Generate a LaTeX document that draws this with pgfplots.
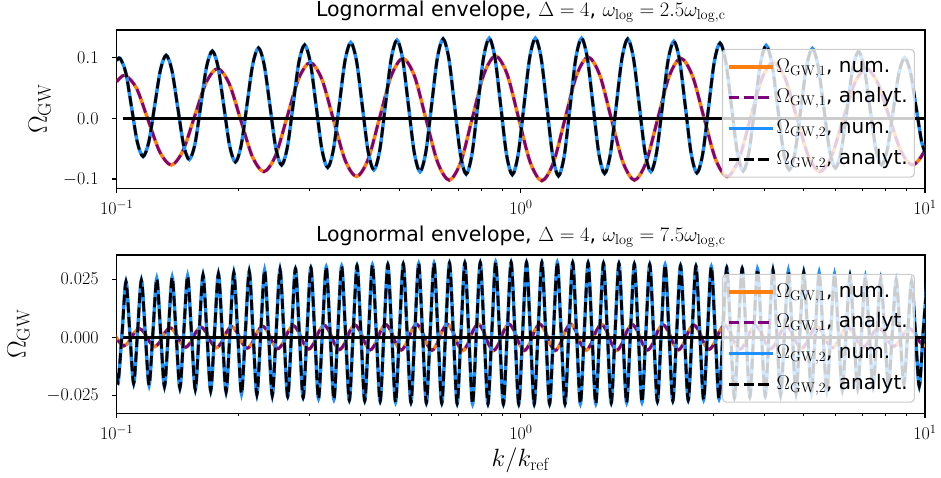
\RequirePackage{fix-cm}
\documentclass[border=0pt]{standalone}
\usepackage[no-math]{fontspec}
\setmainfont{DejaVu Sans}
\usepackage{pgfplots}
\usepackage{pgfplotstable}
\pgfplotsset{compat=1.18}
\definecolor{corange}{RGB}{255,127,14}
\definecolor{cblue}{RGB}{30,144,255}
\definecolor{cpurple}{RGB}{128,0,128}
\definecolor{legedge}{RGB}{204,204,204}

% top panel, omega_2 (u = log10 k)
\pgfplotstableread[row sep=\\]{
u v\\
-1.0000 0.095\\
-0.9918 0.099\\ -0.9775 0.0753\\ -0.9632 0.018\\ -0.9490 -0.0393\\
-0.9347 -0.063\\ -0.9204 -0.0385\\ -0.9061 0.0205\\ -0.8919 0.0795\\
-0.8776 0.104\\ -0.8633 0.0788\\ -0.8490 0.018\\ -0.8348 -0.0428\\
-0.8205 -0.068\\ -0.8062 -0.0418\\ -0.7919 0.0215\\ -0.7777 0.0848\\
-0.7634 0.111\\ -0.7491 0.0842\\ -0.7348 0.0195\\ -0.7206 -0.0452\\
-0.7063 -0.072\\ -0.6920 -0.0445\\ -0.6777 0.022\\ -0.6635 0.0885\\
-0.6492 0.116\\ -0.6349 0.0877\\ -0.6206 0.0195\\ -0.6064 -0.0487\\
-0.5921 -0.077\\ -0.5778 -0.048\\ -0.5635 0.022\\ -0.5493 0.092\\
-0.5350 0.121\\ -0.5207 0.0914\\ -0.5064 0.020\\ -0.4922 -0.0514\\
-0.4779 -0.081\\ -0.4636 -0.0508\\ -0.4493 0.022\\ -0.4351 0.0948\\
-0.4208 0.125\\ -0.4065 0.0942\\ -0.3922 0.020\\ -0.3780 -0.0542\\
-0.3637 -0.085\\ -0.3494 -0.0537\\ -0.3351 0.022\\ -0.3209 0.0977\\
-0.3066 0.129\\ -0.2923 0.0972\\ -0.2780 0.0205\\ -0.2638 -0.0562\\
-0.2495 -0.088\\ -0.2352 -0.0559\\ -0.2209 0.0215\\ -0.2067 0.0989\\
-0.1924 0.131\\ -0.1781 0.0983\\ -0.1638 0.0195\\ -0.1496 -0.0593\\
-0.1353 -0.092\\ -0.1210 -0.0592\\ -0.1067 0.020\\ -0.0925 0.0992\\
-0.0782 0.132\\ -0.0639 0.099\\ -0.0496 0.0195\\ -0.0354 -0.060\\
-0.0211 -0.093\\ -0.0068 -0.060\\ 0.0075 0.0195\\ 0.0217 0.099\\
0.0360 0.132\\ 0.0503 0.0988\\ 0.0646 0.0185\\ 0.0788 -0.0618\\
0.0931 -0.095\\ 0.1074 -0.0618\\ 0.1217 0.0185\\ 0.1359 0.0988\\
0.1502 0.132\\ 0.1645 0.0993\\ 0.1788 0.0205\\ 0.1930 -0.0583\\
0.2073 -0.091\\ 0.2216 -0.0585\\ 0.2359 0.020\\ 0.2501 0.0985\\
0.2644 0.131\\ 0.2787 0.0989\\ 0.2930 0.0215\\ 0.3072 -0.0559\\
0.3215 -0.088\\ 0.3358 -0.0565\\ 0.3501 0.0195\\ 0.3643 0.0955\\
0.3786 0.127\\ 0.3929 0.0952\\ 0.4072 0.0185\\ 0.4214 -0.0582\\
0.4357 -0.090\\ 0.4500 -0.0587\\ 0.4643 0.017\\ 0.4785 0.0927\\
0.4928 0.124\\ 0.5071 0.0931\\ 0.5214 0.0185\\ 0.5356 -0.0561\\
0.5499 -0.087\\ 0.5642 -0.0567\\ 0.5785 0.0165\\ 0.5927 0.0897\\
0.6070 0.120\\ 0.6213 0.090\\ 0.6356 0.0175\\ 0.6498 -0.055\\
0.6641 -0.085\\ 0.6784 -0.0557\\ 0.6927 0.015\\ 0.7069 0.0857\\
0.7212 0.115\\ 0.7355 0.0862\\ 0.7498 0.0165\\ 0.7640 -0.0532\\
0.7783 -0.082\\ 0.7926 -0.0539\\ 0.8069 0.014\\ 0.8211 0.0819\\
0.8354 0.110\\ 0.8497 0.0826\\ 0.8640 0.0165\\ 0.8782 -0.0496\\
0.8925 -0.077\\ 0.9068 -0.0511\\ 0.9211 0.0115\\ 0.9353 0.0741\\
0.9496 0.100\\ 0.9639 0.0758\\ 0.9782 0.0175\\ 0.9924 -0.0408\\
1.0067 -0.065\\
}\topblue

% top panel, omega_1
\pgfplotstableread[row sep=\\]{
u v\\
-1.0000 0.0603\\
-0.9795 0.071\\ -0.9508 0.0493\\ -0.9222 -0.003\\ -0.8935 -0.0553\\
-0.8649 -0.077\\ -0.8362 -0.0537\\ -0.8076 0.0025\\ -0.7789 0.0587\\
-0.7503 0.082\\ -0.7216 0.0571\\ -0.6930 -0.003\\ -0.6643 -0.0631\\
-0.6357 -0.088\\ -0.6070 -0.0616\\ -0.5784 0.002\\ -0.5497 0.0656\\
-0.5211 0.092\\ -0.4924 0.0645\\ -0.4638 -0.002\\ -0.4351 -0.0685\\
-0.4065 -0.096\\ -0.3778 -0.0674\\ -0.3492 0.0015\\ -0.3205 0.0704\\
-0.2919 0.099\\ -0.2632 0.0696\\ -0.2346 -0.0015\\ -0.2059 -0.0726\\
-0.1773 -0.102\\ -0.1486 -0.072\\ -0.1200 0.0005\\ -0.0913 0.073\\
-0.0627 0.103\\ -0.0340 0.0728\\ -0.0054 0.000\\ 0.0233 -0.0728\\
0.0519 -0.103\\ 0.0806 -0.0731\\ 0.1092 -0.001\\ 0.1379 0.0711\\
0.1665 0.101\\ 0.1952 0.0713\\ 0.2238 -0.0005\\ 0.2525 -0.0723\\
0.2811 -0.102\\ 0.3098 -0.0726\\ 0.3384 -0.0015\\ 0.3671 0.0696\\
0.3957 0.099\\ 0.4244 0.0704\\ 0.4530 0.0015\\ 0.4817 -0.0674\\
0.5103 -0.096\\ 0.5390 -0.0683\\ 0.5676 -0.0015\\ 0.5963 0.0653\\
0.6249 0.093\\ 0.6536 0.0665\\ 0.6822 0.0025\\ 0.7109 -0.0615\\
0.7395 -0.088\\ 0.7682 -0.0631\\ 0.7968 -0.003\\ 0.8255 0.0571\\
0.8541 0.082\\ 0.8828 0.0587\\ 0.9114 0.0025\\ 0.9401 -0.0537\\
0.9687 -0.077\\ 0.9974 -0.0555\\ 1.0260 -0.0035\\
}\toporange

% bottom panel, omega_2
\pgfplotstableread[row sep=\\]{
u v\\
-1.0000 -0.0155\\
-0.9961 -0.0191\\ -0.9866 0.002\\ -0.9770 0.0239\\ -0.9675 0.002\\
-0.9580 -0.0198\\ -0.9485 0.002\\ -0.9389 0.0245\\ -0.9294 0.002\\
-0.9199 -0.0205\\ -0.9104 0.002\\ -0.9008 0.0251\\ -0.8913 0.002\\
-0.8818 -0.0212\\ -0.8723 0.002\\ -0.8627 0.0257\\ -0.8532 0.002\\
-0.8436 -0.0218\\ -0.8341 0.002\\ -0.8245 0.0263\\ -0.8150 0.002\\
-0.8055 -0.0224\\ -0.7960 0.002\\ -0.7864 0.0268\\ -0.7769 0.002\\
-0.7674 -0.0230\\ -0.7579 0.002\\ -0.7483 0.0273\\ -0.7388 0.002\\
-0.7293 -0.0235\\ -0.7198 0.002\\ -0.7102 0.0278\\ -0.7007 0.002\\
-0.6912 -0.0241\\ -0.6817 0.002\\ -0.6721 0.0283\\ -0.6626 0.002\\
-0.6531 -0.0246\\ -0.6436 0.002\\ -0.6340 0.0287\\ -0.6245 0.002\\
-0.6150 -0.0250\\ -0.6055 0.002\\ -0.5959 0.0291\\ -0.5864 0.002\\
-0.5768 -0.0255\\ -0.5673 0.002\\ -0.5577 0.0295\\ -0.5482 0.002\\
-0.5387 -0.0259\\ -0.5292 0.002\\ -0.5196 0.0299\\ -0.5101 0.002\\
-0.5006 -0.0263\\ -0.4911 0.002\\ -0.4815 0.0302\\ -0.4720 0.002\\
-0.4625 -0.0266\\ -0.4530 0.002\\ -0.4434 0.0305\\ -0.4339 0.002\\
-0.4244 -0.0270\\ -0.4149 0.002\\ -0.4053 0.0308\\ -0.3958 0.002\\
-0.3863 -0.0273\\ -0.3768 0.002\\ -0.3672 0.0310\\ -0.3577 0.002\\
-0.3482 -0.0275\\ -0.3387 0.002\\ -0.3291 0.0313\\ -0.3196 0.002\\
-0.3100 -0.0278\\ -0.3005 0.002\\ -0.2909 0.0315\\ -0.2814 0.002\\
-0.2719 -0.0280\\ -0.2624 0.002\\ -0.2528 0.0316\\ -0.2433 0.002\\
-0.2338 -0.0282\\ -0.2243 0.002\\ -0.2147 0.0318\\ -0.2052 0.002\\
-0.1957 -0.0283\\ -0.1862 0.002\\ -0.1766 0.0319\\ -0.1671 0.002\\
-0.1576 -0.0285\\ -0.1481 0.002\\ -0.1385 0.0320\\ -0.1290 0.002\\
-0.1195 -0.0286\\ -0.1100 0.002\\ -0.1004 0.0321\\ -0.0909 0.002\\
-0.0814 -0.0286\\ -0.0719 0.002\\ -0.0623 0.0322\\ -0.0528 0.002\\
-0.0432 -0.0287\\ -0.0337 0.002\\ -0.0241 0.0322\\ -0.0146 0.002\\
-0.0051 -0.0287\\ 0.0044 0.002\\ 0.0140 0.0322\\ 0.0235 0.002\\
0.0330 -0.0287\\ 0.0425 0.002\\ 0.0521 0.0322\\ 0.0616 0.002\\
0.0711 -0.0286\\ 0.0806 0.002\\ 0.0902 0.0321\\ 0.0997 0.002\\
0.1092 -0.0286\\ 0.1187 0.002\\ 0.1283 0.0321\\ 0.1378 0.002\\
0.1473 -0.0285\\ 0.1568 0.002\\ 0.1664 0.0320\\ 0.1759 0.002\\
0.1854 -0.0284\\ 0.1949 0.002\\ 0.2045 0.0318\\ 0.2140 0.002\\
0.2236 -0.0282\\ 0.2331 0.002\\ 0.2427 0.0317\\ 0.2522 0.002\\
0.2617 -0.0280\\ 0.2712 0.002\\ 0.2808 0.0315\\ 0.2903 0.002\\
0.2998 -0.0278\\ 0.3093 0.002\\ 0.3189 0.0313\\ 0.3284 0.002\\
0.3379 -0.0276\\ 0.3474 0.002\\ 0.3570 0.0311\\ 0.3665 0.002\\
0.3760 -0.0273\\ 0.3855 0.002\\ 0.3951 0.0308\\ 0.4046 0.002\\
0.4141 -0.0270\\ 0.4236 0.002\\ 0.4332 0.0306\\ 0.4427 0.002\\
0.4522 -0.0267\\ 0.4617 0.002\\ 0.4713 0.0303\\ 0.4808 0.002\\
0.4904 -0.0264\\ 0.4999 0.002\\ 0.5095 0.0299\\ 0.5190 0.002\\
0.5285 -0.0260\\ 0.5380 0.002\\ 0.5476 0.0296\\ 0.5571 0.002\\
0.5666 -0.0256\\ 0.5761 0.002\\ 0.5857 0.0292\\ 0.5952 0.002\\
0.6047 -0.0252\\ 0.6142 0.002\\ 0.6238 0.0288\\ 0.6333 0.002\\
0.6428 -0.0247\\ 0.6523 0.002\\ 0.6619 0.0284\\ 0.6714 0.002\\
0.6809 -0.0242\\ 0.6904 0.002\\ 0.7000 0.0279\\ 0.7095 0.002\\
0.7190 -0.0237\\ 0.7285 0.002\\ 0.7381 0.0275\\ 0.7476 0.002\\
0.7571 -0.0231\\ 0.7666 0.002\\ 0.7762 0.0270\\ 0.7857 0.002\\
0.7953 -0.0226\\ 0.8048 0.002\\ 0.8144 0.0264\\ 0.8239 0.002\\
0.8334 -0.0220\\ 0.8429 0.002\\ 0.8525 0.0259\\ 0.8620 0.002\\
0.8715 -0.0213\\ 0.8810 0.002\\ 0.8906 0.0253\\ 0.9001 0.002\\
0.9096 -0.0207\\ 0.9191 0.002\\ 0.9287 0.0247\\ 0.9382 0.002\\
0.9477 -0.0200\\ 0.9572 0.002\\ 0.9668 0.0241\\ 0.9763 0.002\\
0.9858 -0.0210\\ 0.9953 0.002\\ 1.0049 0.0234\\
}\botblue

% bottom panel, omega_1
\pgfplotstableread[row sep=\\]{
u v\\
-1.0203 0.0035\\ -1.0076 0.00175\\ -0.9949 -0.00175\\
-0.9822 -0.0037\\ -0.9695 -0.00185\\ -0.9568 0.00185\\
-0.9441 0.0038\\ -0.9314 0.0019\\ -0.9187 -0.0019\\
-0.9060 -0.0040\\ -0.8933 -0.0020\\ -0.8806 0.0020\\
-0.8679 0.0041\\ -0.8552 0.00205\\ -0.8425 -0.00205\\
-0.8297 -0.0043\\ -0.8170 -0.00215\\ -0.8043 0.00215\\
-0.7916 0.0044\\ -0.7789 0.0022\\ -0.7662 -0.0022\\
-0.7535 -0.0045\\ -0.7408 -0.00225\\ -0.7281 0.00225\\
-0.7154 0.0046\\ -0.7027 0.0023\\ -0.6900 -0.0023\\
-0.6773 -0.0047\\ -0.6646 -0.00235\\ -0.6519 0.00235\\
-0.6392 0.0048\\ -0.6265 0.0024\\ -0.6138 -0.0024\\
-0.6011 -0.0049\\ -0.5884 -0.00245\\ -0.5757 0.00245\\
-0.5629 0.0050\\ -0.5502 0.0025\\ -0.5375 -0.0025\\
-0.5248 -0.0051\\ -0.5121 -0.00255\\ -0.4994 0.00255\\
-0.4867 0.0052\\ -0.4740 0.0026\\ -0.4613 -0.0026\\
-0.4486 -0.0053\\ -0.4359 -0.00265\\ -0.4232 0.00265\\
-0.4105 0.0053\\ -0.3978 0.00265\\ -0.3851 -0.00265\\
-0.3724 -0.0054\\ -0.3597 -0.0027\\ -0.3470 0.0027\\
-0.3343 0.0055\\ -0.3216 0.00275\\ -0.3089 -0.00275\\
-0.2961 -0.0055\\ -0.2834 -0.00275\\ -0.2707 0.00275\\
-0.2580 0.0056\\ -0.2453 0.0028\\ -0.2326 -0.0028\\
-0.2199 -0.0056\\ -0.2072 -0.0028\\ -0.1945 0.0028\\
-0.1818 0.0056\\ -0.1691 0.0028\\ -0.1564 -0.0028\\
-0.1437 -0.0057\\ -0.1310 -0.00285\\ -0.1183 0.00285\\
-0.1056 0.0057\\ -0.0929 0.00285\\ -0.0802 -0.00285\\
-0.0675 -0.0057\\ -0.0548 -0.00285\\ -0.0421 0.00285\\
-0.0293 0.0057\\ -0.0166 0.00285\\ -0.0039 -0.00285\\
0.0088 -0.0057\\ 0.0215 -0.00285\\ 0.0342 0.00285\\
0.0469 0.0057\\ 0.0596 0.00285\\ 0.0723 -0.00285\\
0.0850 -0.0057\\ 0.0977 -0.00285\\ 0.1104 0.00285\\
0.1231 0.0057\\ 0.1358 0.00285\\ 0.1485 -0.00285\\
0.1612 -0.0056\\ 0.1739 -0.0028\\ 0.1866 0.0028\\
0.1993 0.0056\\ 0.2120 0.0028\\ 0.2247 -0.0028\\
0.2375 -0.0056\\ 0.2502 -0.0028\\ 0.2629 0.0028\\
0.2756 0.0055\\ 0.2883 0.00275\\ 0.3010 -0.00275\\
0.3137 -0.0055\\ 0.3264 -0.00275\\ 0.3391 0.00275\\
0.3518 0.0054\\ 0.3645 0.0027\\ 0.3772 -0.0027\\
0.3899 -0.0054\\ 0.4026 -0.0027\\ 0.4153 0.0027\\
0.4280 0.0053\\ 0.4407 0.00265\\ 0.4534 -0.00265\\
0.4661 -0.0052\\ 0.4788 -0.0026\\ 0.4915 0.0026\\
0.5043 0.0052\\ 0.5170 0.0026\\ 0.5297 -0.0026\\
0.5424 -0.0051\\ 0.5551 -0.00255\\ 0.5678 0.00255\\
0.5805 0.0050\\ 0.5932 0.0025\\ 0.6059 -0.0025\\
0.6186 -0.0049\\ 0.6313 -0.00245\\ 0.6440 0.00245\\
0.6567 0.0048\\ 0.6694 0.0024\\ 0.6821 -0.0024\\
0.6948 -0.0047\\ 0.7075 -0.00235\\ 0.7202 0.00235\\
0.7329 0.0046\\ 0.7456 0.0023\\ 0.7583 -0.0023\\
0.7710 -0.0045\\ 0.7837 -0.00225\\ 0.7964 0.00225\\
0.8092 0.0043\\ 0.8219 0.00215\\ 0.8346 -0.00215\\
0.8473 -0.0042\\ 0.8600 -0.0021\\ 0.8727 0.0021\\
0.8854 0.0041\\ 0.8981 0.00205\\ 0.9108 -0.00205\\
0.9235 -0.0039\\ 0.9362 -0.00195\\ 0.9489 0.00195\\
0.9616 0.0038\\ 0.9743 0.0019\\ 0.9870 -0.0019\\
0.9997 -0.0036\\ 1.0124 -0.0018\\
}\botorange

\pgfplotsset{
  panel/.style={
    scale only axis, width=808.3pt, height=158.3pt,
    xmin=-1, xmax=1,
    xtick={-1,0,1}, xticklabels={$10^{-1}$,$10^{0}$,$10^{1}$},
    minor xtick={-0.69897,-0.52288,-0.39794,-0.30103,-0.22185,-0.15490,-0.09691,-0.04576,
                 0.30103,0.47712,0.60206,0.69897,0.77815,0.84510,0.90309,0.95424},
    scaled y ticks=false, scaled x ticks=false,
    tick align=outside, xtick pos=lower, ytick pos=left,
    major tick length=4.9pt, minor tick length=2.8pt,
    major tick style={line width=1.1pt, black},
    minor tick style={line width=0.8pt, black},
    axis line style={line width=1.1pt},
    tick label style={font=\fontsize{18}{21}\selectfont},
    yticklabel style={inner xsep=0pt, xshift=-13pt},
    xticklabel style={inner ysep=0pt, yshift=-6.5pt},
    title style={font=\fontsize{20.5}{24}\selectfont, at={(axis description cs:0.5,1)}, anchor=base, yshift=7.3pt},
    ylabel style={font=\fontsize{26.5}{31}\selectfont, anchor=center},
    xlabel style={font=\fontsize{25}{30}\selectfont, at={(axis description cs:0.5,-0.3373)}, anchor=base},
    legend cell align=left,
    legend image code/.code={\draw[#1] plot coordinates {(0pt,0pt) (22pt,0pt) (44pt,0pt)};},
    legend style={at={(0.9876,0.474)}, anchor=east,
      font=\fontsize{20}{24}\selectfont,
      draw=legedge, line width=1.1pt, fill=white, fill opacity=0.8, text opacity=1, draw opacity=1,
      rounded corners=4pt, inner xsep=4.7pt, inner ysep=2.3pt,
      nodes={inner sep=2pt, text height=18.5pt, text depth=8.3pt}},
    clip=true,
  },
  numone/.style={corange, line width=3.47pt, smooth},
  anaone/.style={cpurple, line width=2.78pt, dash pattern=on 10.3pt off 4.4pt, smooth},
  numtwo/.style={cblue, line width=3.47pt, smooth},
  anatwo/.style={black, line width=2.78pt, dash pattern=on 10.3pt off 4.4pt, smooth},
}

\begin{document}
\begin{tikzpicture}
\path[use as bounding box] (0pt,0pt) rectangle (941pt,477pt);

\begin{axis}[panel, at={(116.7pt,288.7pt)}, anchor=south west,
  ymin=-0.1154, ymax=0.1456,
  ytick={-0.1,0,0.1}, yticklabels={$-0.1$,$0.0$,$0.1$},
  ylabel={$\Omega_{\rm GW}$}, ylabel style={at={(axis description cs:-0.0950,0.5)}},
  title={Lognormal envelope, $\Delta = 4$, $\omega_{\rm log} = 2.5\omega_{\rm log,c}$}]
\addplot[numone] table[x=u,y=v] {\toporange};
\addlegendentry{$\Omega_{\rm GW,1}$, num.}
\addplot[anaone] table[x=u,y=v] {\toporange};
\addlegendentry{$\Omega_{\rm GW,1}$, analyt.}
\addplot[numtwo] table[x=u,y=v] {\topblue};
\addlegendentry{$\Omega_{\rm GW,2}$, num.}
\addplot[anatwo] table[x=u,y=v] {\topblue};
\addlegendentry{$\Omega_{\rm GW,2}$, analyt.}
\addplot[black, line width=2.78pt, forget plot] coordinates {(-0.985,0) (1,0)};
\end{axis}

\begin{axis}[panel, at={(116.7pt,63.7pt)}, anchor=south west,
  ymin=-0.03267, ymax=0.03538,
  ytick={-0.025,0,0.025}, yticklabels={$-0.025$,$0.000$,$0.025$},
  ylabel={$\Omega_{\rm GW}$}, ylabel style={at={(axis description cs:-0.1215,0.5)}},
  xlabel={$k/k_{\rm ref}$},
  title={Lognormal envelope, $\Delta = 4$, $\omega_{\rm log} = 7.5\omega_{\rm log,c}$}]
\addplot[numone] table[x=u,y=v] {\botorange};
\addlegendentry{$\Omega_{\rm GW,1}$, num.}
\addplot[anaone] table[x=u,y=v] {\botorange};
\addlegendentry{$\Omega_{\rm GW,1}$, analyt.}
\addplot[numtwo] table[x=u,y=v] {\botblue};
\addlegendentry{$\Omega_{\rm GW,2}$, num.}
\addplot[anatwo] table[x=u,y=v] {\botblue};
\addlegendentry{$\Omega_{\rm GW,2}$, analyt.}
\addplot[black, line width=2.78pt, forget plot] coordinates {(-0.985,0) (1,0)};
\end{axis}
\end{tikzpicture}
\end{document}
